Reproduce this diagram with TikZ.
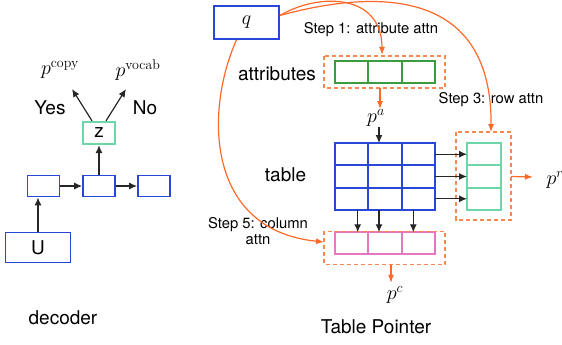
\RequirePackage{fix-cm}
\documentclass[tikz,border=0pt]{standalone}
\usepackage[no-math]{fontspec}
\setmainfont{TeX Gyre Heros}
\usetikzlibrary{arrows.meta}
\usetikzlibrary{calc}

\definecolor{ptrblue}{RGB}{40,70,215}
\definecolor{attrgreen}{RGB}{60,155,60}
\definecolor{rowmint}{RGB}{110,215,170}
\definecolor{colpink}{RGB}{230,120,195}
\definecolor{steporange}{RGB}{255,105,40}
\definecolor{dashorange}{RGB}{250,135,80}

\tikzstyle{bigtext} = [font=\fontsize{19}{22}\selectfont]
\tikzstyle{mathtext} = [font=\fontsize{20}{22}\selectfont]
\tikzstyle{steptext} = [font=\fontsize{14.8}{16.5}\selectfont, align=center]
\tikzstyle{state} = [rectangle, draw=ptrblue, line width=1.8pt, minimum width=32pt, minimum height=21pt, inner sep=0pt]
\tikzstyle{cell} = [rectangle, line width=1.8pt, minimum width=33.3pt, minimum height=22.3pt, inner sep=0pt, outer sep=0pt]
\tikzstyle{attrcell} = [cell, draw=attrgreen, minimum height=22pt]
\tikzstyle{tablecell} = [cell, draw=ptrblue]
\tikzstyle{rowcell} = [cell, draw=rowmint, minimum width=34pt]
\tikzstyle{colcell} = [cell, draw=colpink, minimum height=21.5pt]
\tikzstyle{dashbox} = [draw=dashorange, line width=1.3pt, dash pattern=on 4pt off 3pt]
\tikzstyle{arrow} = [line width=1.2pt, draw=black!85, -{Latex[length=8pt,width=7pt]}]
\tikzstyle{stepline} = [line width=1.2pt, draw=steporange, -{Latex[length=8pt,width=6pt]}]

\begin{document}
\begin{tikzpicture}[x=1pt,y=-1pt]
\useasboundingbox (0,0) rectangle (562,345);

% decoder
\node (U) [state, minimum width=65pt, minimum height=30pt, bigtext] at (38,247.5) {U};
\node (d1) [state] at (43.5,186) {};
\node (d2) [state, right of=d1, node distance=55.5pt] {};
\node (d3) [state, right of=d2, node distance=55pt] {};
\node (z) [state, draw=rowmint, minimum height=22.5pt, bigtext] at (99,133) {z};
\node (pcopy) [mathtext] at (60,70) {$p^{\mathrm{copy}}$};
\node (pvocab) [mathtext] at (138,70) {$p^{\mathrm{vocab}}$};
\node (yes) [bigtext] at (50,108) {Yes};
\node (no) [bigtext] at (145,108) {No};
\node (decoder) [bigtext] at (63,318) {decoder};

\draw [arrow] (U.north) -- (U.north |- d1.south);
\draw [arrow] (d1) -- (d2);
\draw [arrow] (d2) -- (d3);
\draw [arrow] (d2) -- (z);
\draw [arrow] ($(z.north)+(-7,0)$) -- ($(pcopy.center)+(12,19)$);
\draw [arrow] ($(z.north)+(7,0)$) -- ($(pvocab.center)+(-12,19)$);

% table pointer
\node (q) [state, minimum width=65pt, minimum height=33pt, mathtext] at (246.5,22.5) {$q$};

\node (a1) [attrcell] at (351.7,72) {};
\node (a2) [attrcell] at (385,72) {};
\node (a3) [attrcell] at (418.3,72) {};
\node (attributes) [bigtext] at (277,74) {attributes};

\node (t11) [tablecell] at (351.7,154.2) {};
\node (t12) [tablecell] at (385,154.2) {};
\node (t13) [tablecell] at (418.3,154.2) {};
\node (t21) [tablecell] at (351.7,176.5) {};
\node (t22) [tablecell] at (385,176.5) {};
\node (t23) [tablecell] at (418.3,176.5) {};
\node (t31) [tablecell] at (351.7,198.8) {};
\node (t32) [tablecell] at (385,198.8) {};
\node (t33) [tablecell] at (418.3,198.8) {};
\node (table) [bigtext] at (285.5,175) {table};

\node (r1) [rowcell] at (484,154.2) {};
\node (r2) [rowcell] at (484,176.5) {};
\node (r3) [rowcell] at (484,198.8) {};

\node (c1) [colcell] at (351.7,243) {};
\node (c2) [colcell] at (385,243) {};
\node (c3) [colcell] at (418.3,243) {};

\node (pa) [mathtext] at (376,118) {$p^a$};
\node (pr) [mathtext] at (555,180) {$p^r$};
\node (pc) [mathtext] at (395,295) {$p^c$};

\node (step1) [steptext] at (371,30) {Step 1: attribute attn};
\node (step3) [steptext] at (491,100) {Step 3: row attn};
\node (step5) [steptext] at (258,231) {Step 5: column\\attn};
\node (pointer) [bigtext] at (376,327) {Table Pointer};

\draw [dashbox] ($(a1.north west)+(-11,-5)$) rectangle ($(a3.south east)+(10,5)$);
\draw [dashbox] ($(r1.north west)+(-11,-11)$) rectangle ($(r3.south east)+(10,10)$);
\draw [dashbox] ($(c1.north west)+(-11,-1)$) rectangle ($(c3.south east)+(10,11)$);

\draw [stepline] ($(q.east)+(0,-7)$) .. controls (320,-8) and (382,-6) .. ($(a2.north)+(-3,-6)$);
\draw [stepline] ($(q.east)+(0,-7)$) .. controls (380,-12) and (492,-10) .. ($(r1.north)+(7,-11)$);
\draw [stepline] ($(q.south)+(-10,0)$) .. controls (205,110) and (205,230) .. ($(c1.west)+(-11,-1)$);

\draw [stepline] ($(a2.south)+(-5,5)$) -- ($(pa.center)+(4,-9)$);
\draw [arrow] ($(pa.center)+(3,9)$) -- ($(t12.north)+(-6,0)$);
\draw [arrow] (t13.east) -- (r1.west);
\draw [arrow] (t23.east) -- (r2.west);
\draw [arrow] (t33.east) -- (r3.west);
\draw [stepline] ($(r2.east)+(10,0)$) -- ($(pr.west)+(-10,-3)$);
\draw [arrow] ($(t31.south)+(6,0)$) -- ($(c1.north)+(6,0)$);
\draw [arrow] ($(t32.south)+(-6,0)$) -- ($(c2.north)+(-6,0)$);
\draw [arrow] ($(t33.south)+(-5,0)$) -- ($(c3.north)+(-5,0)$);
\draw [stepline] ($(c2.south)+(6,11)$) -- ($(pc.north)+(-4,0)$);

\end{tikzpicture}
\end{document}
